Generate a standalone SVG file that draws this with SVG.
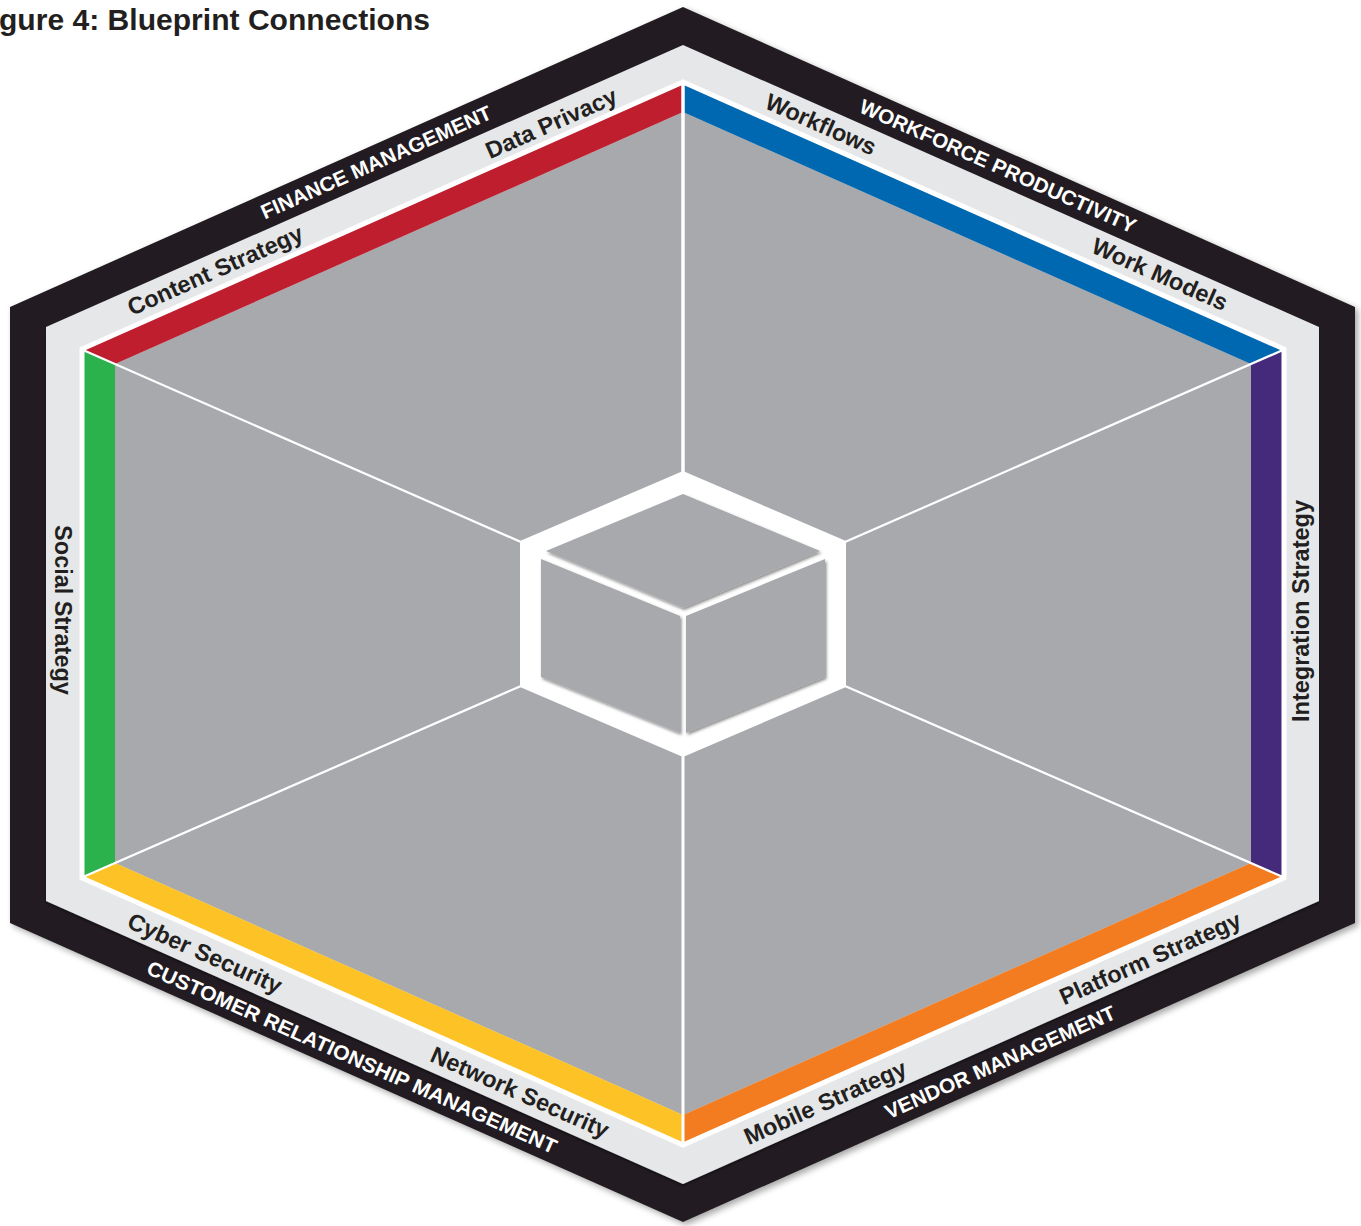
<svg xmlns="http://www.w3.org/2000/svg" width="1361" height="1226" viewBox="0 0 1361 1226">
<defs>
<style>
.title{font-family:"Liberation Sans",Arial,sans-serif;font-weight:bold;font-size:30px;fill:#231f20}
.cap{font-family:"Liberation Sans",Arial,sans-serif;font-weight:bold;font-size:20.5px;fill:#ffffff;text-anchor:middle}
.lbl{font-family:"Liberation Sans",Arial,sans-serif;font-weight:bold;font-size:23.5px;fill:#231f20;text-anchor:middle}
.spoke{stroke:#ffffff;stroke-width:2.2;fill:none}
.face{fill:#a7a9ac}
</style>
<filter id="shOuter" x="-5%" y="-5%" width="112%" height="112%">
<feDropShadow dx="3" dy="3" stdDeviation="3" flood-color="#000" flood-opacity="0.35"/>
</filter>
<filter id="shBand" x="-5%" y="-5%" width="110%" height="110%">
<feDropShadow dx="0" dy="2" stdDeviation="1.2" flood-color="#000" flood-opacity="0.45"/>
</filter>
<filter id="shFace" x="-10%" y="-10%" width="125%" height="125%">
<feDropShadow dx="1.5" dy="2" stdDeviation="1.6" flood-color="#000" flood-opacity="0.45"/>
</filter>
</defs>
<rect width="1361" height="1226" fill="#ffffff"/>
<text class="title" x="-1" y="30" textLength="431" lengthAdjust="spacingAndGlyphs">gure 4: Blueprint Connections</text>

<g id="frame">
<polygon points="683,7 1355,307 1355,923 683,1222 10,923 10,307" fill="#231f20" filter="url(#shOuter)"/>
<polygon points="683,45 1319,327 1319,901 683,1184 46,901 46,327" fill="#e6e7e8" filter="url(#shBand)"/>
</g>

<g id="bands">
<polygon points="683,112 1251,364 1251,863 683,1115 115,863 115,364" fill="#a7a9ac"/>
<polygon id="band-finance" points="83,350 683,84 683,112 115,364" fill="#be1e2d"/>
<polygon id="band-workforce" points="683,84 1283,350 1251,364 683,112" fill="#0067b1"/>
<polygon id="band-integration" points="1283,350 1283,877 1251,863 1251,364" fill="#452a7c"/>
<polygon id="band-vendor" points="1283,877 683,1143 683,1115 1251,863" fill="#f37c21"/>
<polygon id="band-crm" points="683,1143 83,877 115,863 683,1115" fill="#fdc326"/>
<polygon id="band-social" points="83,877 83,350 115,364 115,863" fill="#2bb24c"/>
<polygon points="683,82 1284,349 1284,878 683,1145 82,878 82,349" fill="none" stroke="#ffffff" stroke-width="5" stroke-linejoin="miter"/>
</g>

<g id="connectors">
<line class="spoke" x1="683" y1="82" x2="683" y2="472" style="stroke-width:3.5"/>
<line class="spoke" x1="683" y1="756" x2="683" y2="1145" style="stroke-width:3"/>
<line class="spoke" x1="83" y1="350" x2="521" y2="542"/>
<line class="spoke" x1="1283" y1="350" x2="845" y2="542"/>
<line class="spoke" x1="1283" y1="877" x2="845" y2="686"/>
<line class="spoke" x1="83" y1="877" x2="521" y2="686"/>
</g>

<g id="center">
<polygon points="683,471 846,541 846,687 683,757 520,687 520,541" fill="#ffffff"/>
<g filter="url(#shFace)">
<polygon class="face" points="683,494 820,551 683,608 546,551"/>
<polygon class="face" points="541,559 680,616 680,733 541,677"/>
<polygon class="face" points="686,616 825,559 825,677 686,733"/>
</g>
</g>

<g id="labels-outer">
<text class="cap" transform="translate(376,162) rotate(-23.94)" y="7.3" textLength="250" lengthAdjust="spacingAndGlyphs">FINANCE MANAGEMENT</text>
<text class="cap" transform="translate(998,166) rotate(23.94)" y="7.3" textLength="300" lengthAdjust="spacingAndGlyphs">WORKFORCE PRODUCTIVITY</text>
<text class="cap" transform="translate(352,1057) rotate(23.94)" y="7.3" textLength="446" lengthAdjust="spacingAndGlyphs">CUSTOMER RELATIONSHIP MANAGEMENT</text>
<text class="cap" transform="translate(1000,1062) rotate(-23.94)" y="7.3" textLength="250" lengthAdjust="spacingAndGlyphs">VENDOR MANAGEMENT</text>
</g>

<g id="labels-inner">
<text class="lbl" transform="translate(215,270) rotate(-23.94)" y="8.4">Content Strategy</text>
<text class="lbl" transform="translate(551,123) rotate(-23.94)" y="8.4">Data Privacy</text>
<text class="lbl" transform="translate(821,124) rotate(23.94)" y="8.4">Workflows</text>
<text class="lbl" transform="translate(1160,274) rotate(23.94)" y="8.4">Work Models</text>
<text class="lbl" transform="translate(1301,611) rotate(-90)" y="8.4">Integration Strategy</text>
<text class="lbl" transform="translate(63,610) rotate(90)" y="8.4">Social Strategy</text>
<text class="lbl" transform="translate(205,953) rotate(23.94)" y="8.4">Cyber Security</text>
<text class="lbl" transform="translate(520,1092) rotate(23.94)" y="8.4">Network Security</text>
<text class="lbl" transform="translate(825,1102) rotate(-23.94)" y="8.4">Mobile Strategy</text>
<text class="lbl" transform="translate(1150,958) rotate(-23.94)" y="8.4">Platform Strategy</text>
</g>
</svg>
